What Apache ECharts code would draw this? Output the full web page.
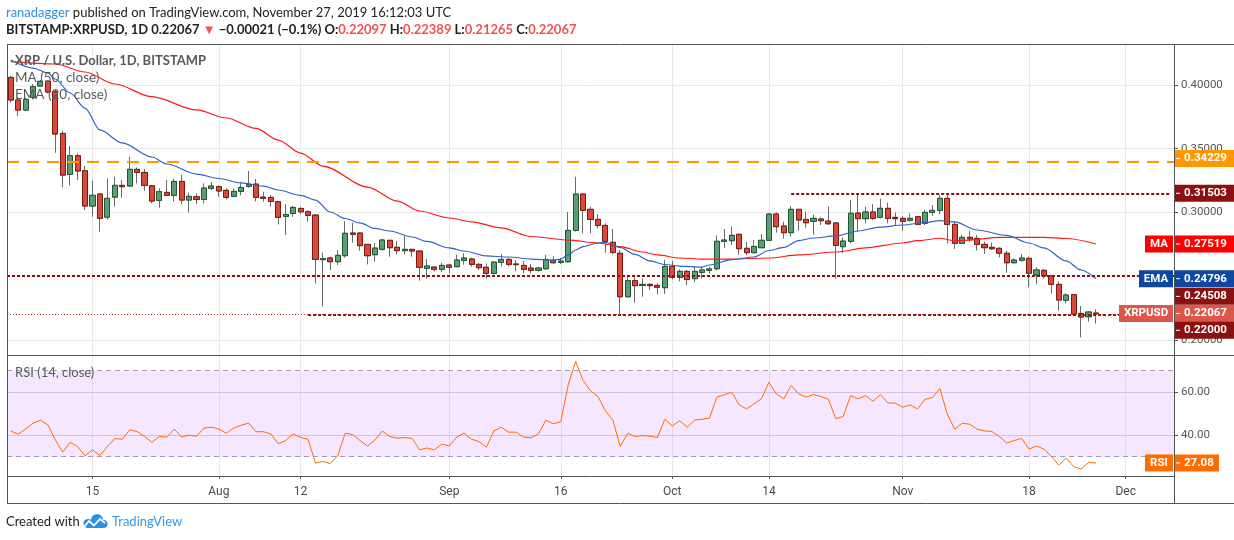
<!DOCTYPE html>
<html>
<head>
<meta charset="utf-8">
<title>XRP / U.S. Dollar, 1D, BITSTAMP</title>
<script src="https://cdn.jsdelivr.net/npm/echarts@6/dist/echarts.min.js"></script>
<style>
  html, body { margin: 0; padding: 0; background: #fff; }
  #main { width: 1234px; height: 540px; }
</style>
</head>
<body>
<div id="main"></div>
<script>
// BITSTAMP:XRPUSD daily candles, 2019-07-04 .. 2019-11-27
const firstDay = '2019-07-04';
const dayCount = 157; // axis runs on a few empty days after the last candle

const opens = [
  0.4060, 0.3882, 0.3803, 0.3903, 0.3992, 0.4029, 0.3947, 0.3620, 0.3298, 0.3445,
  0.3327, 0.3050, 0.3144, 0.2963, 0.3120, 0.3212, 0.3207, 0.3338, 0.3314, 0.3209,
  0.3094, 0.3157, 0.3134, 0.3243, 0.3097, 0.3123, 0.3102, 0.3188, 0.3202, 0.3173,
  0.3126, 0.3165, 0.3204, 0.3222, 0.3120, 0.3118, 0.3084, 0.2969, 0.2992, 0.3031,
  0.3005, 0.2979, 0.2629, 0.2642, 0.2613, 0.2660, 0.2838, 0.2838, 0.2749, 0.2668,
  0.2710, 0.2781, 0.2726, 0.2700, 0.2710, 0.2697, 0.2561, 0.2571, 0.2553, 0.2587,
  0.2574, 0.2624, 0.2634, 0.2592, 0.2569, 0.2521, 0.2608, 0.2631, 0.2595, 0.2584,
  0.2563, 0.2545, 0.2558, 0.2624, 0.2608, 0.2613, 0.2859, 0.3144, 0.3024, 0.2945,
  0.2898, 0.2765, 0.2679, 0.2338, 0.2464, 0.2427, 0.2435, 0.2427, 0.2409, 0.2576,
  0.2490, 0.2537, 0.2480, 0.2529, 0.2545, 0.2558, 0.2773, 0.2778, 0.2828, 0.2718,
  0.2684, 0.2723, 0.2781, 0.2987, 0.2893, 0.2841, 0.3024, 0.2945, 0.2930, 0.2948,
  0.2932, 0.2917, 0.2731, 0.2773, 0.2995, 0.2951, 0.3003, 0.2961, 0.3032, 0.2961,
  0.2953, 0.2938, 0.2966, 0.2914, 0.3000, 0.3016, 0.3110, 0.2906, 0.2757, 0.2804,
  0.2796, 0.2749, 0.2726, 0.2718, 0.2679, 0.2605, 0.2624, 0.2639, 0.2509, 0.2545,
  0.2503, 0.2435, 0.2310, 0.2354, 0.2207, 0.2181, 0.22097
];
const closes = [
  0.3882, 0.3803, 0.3887, 0.3987, 0.4029, 0.3945, 0.3615, 0.3293, 0.3445, 0.3325,
  0.3050, 0.3134, 0.2953, 0.3110, 0.3212, 0.3202, 0.3338, 0.3314, 0.3212, 0.3089,
  0.3162, 0.3134, 0.3243, 0.3097, 0.3126, 0.3102, 0.3191, 0.3207, 0.3168, 0.3118,
  0.3165, 0.3196, 0.3220, 0.3118, 0.3110, 0.3086, 0.2961, 0.2984, 0.3039, 0.3005,
  0.2977, 0.2631, 0.2637, 0.2613, 0.2663, 0.2836, 0.2828, 0.2739, 0.2660, 0.2720,
  0.2783, 0.2723, 0.2700, 0.2710, 0.2697, 0.2569, 0.2579, 0.2553, 0.2584, 0.2569,
  0.2626, 0.2642, 0.2592, 0.2566, 0.2521, 0.2610, 0.2631, 0.2592, 0.2590, 0.2553,
  0.2545, 0.2563, 0.2631, 0.2605, 0.2618, 0.2859, 0.3144, 0.3016, 0.2945, 0.2898,
  0.2773, 0.2686, 0.2338, 0.2464, 0.2425, 0.2435, 0.2425, 0.2412, 0.2576, 0.2490,
  0.2537, 0.2474, 0.2537, 0.2548, 0.2556, 0.2773, 0.2783, 0.2820, 0.2715, 0.2684,
  0.2733, 0.2781, 0.2987, 0.2888, 0.2841, 0.3024, 0.2940, 0.2919, 0.2953, 0.2935,
  0.2911, 0.2741, 0.2775, 0.2993, 0.2951, 0.3003, 0.2953, 0.3032, 0.2953, 0.2951,
  0.2930, 0.2953, 0.2906, 0.3000, 0.3016, 0.3110, 0.2906, 0.2757, 0.2804, 0.2791,
  0.2749, 0.2723, 0.2715, 0.2679, 0.2605, 0.2626, 0.2642, 0.2522, 0.2548, 0.2503,
  0.2435, 0.2312, 0.2351, 0.2202, 0.2179, 0.2218, 0.22067
];
const lows = [
  0.3861, 0.3756, 0.3800, 0.3887, 0.3987, 0.3934, 0.3468, 0.3196, 0.3212, 0.3254,
  0.3018, 0.2966, 0.2848, 0.2945, 0.3045, 0.3115, 0.3205, 0.3228, 0.3170, 0.3071,
  0.3037, 0.3128, 0.3086, 0.3063, 0.3000, 0.3065, 0.3071, 0.3175, 0.3123, 0.3102,
  0.3118, 0.3134, 0.3194, 0.3086, 0.3084, 0.3045, 0.2906, 0.2822, 0.2966, 0.2987,
  0.2927, 0.2443, 0.2260, 0.2548, 0.2587, 0.2645, 0.2762, 0.2700, 0.2592, 0.2613,
  0.2700, 0.2652, 0.2671, 0.2671, 0.2652, 0.2464, 0.2480, 0.2537, 0.2532, 0.2522,
  0.2569, 0.2590, 0.2574, 0.2548, 0.2480, 0.2514, 0.2574, 0.2574, 0.2537, 0.2521,
  0.2521, 0.2535, 0.2548, 0.2597, 0.2595, 0.2605, 0.2849, 0.2836, 0.2836, 0.2875,
  0.2684, 0.2671, 0.2200, 0.2333, 0.2291, 0.2338, 0.2391, 0.2357, 0.2359, 0.2474,
  0.2459, 0.2430, 0.2454, 0.2482, 0.2521, 0.2542, 0.2720, 0.2744, 0.2668, 0.2665,
  0.2679, 0.2718, 0.2775, 0.2841, 0.2794, 0.2809, 0.2856, 0.2880, 0.2825, 0.2901,
  0.2901, 0.2480, 0.2679, 0.2757, 0.2849, 0.2914, 0.2940, 0.2953, 0.2914, 0.2893,
  0.2856, 0.2927, 0.2901, 0.2901, 0.2972, 0.2985, 0.2757, 0.2713, 0.2752, 0.2770,
  0.2700, 0.2673, 0.2705, 0.2647, 0.2527, 0.2600, 0.2613, 0.2412, 0.2438, 0.2482,
  0.2365, 0.2228, 0.2286, 0.2200, 0.2019, 0.2142, 0.21265
];
const highs = [
  0.4070, 0.3903, 0.3900, 0.4008, 0.4039, 0.4039, 0.3960, 0.3641, 0.3521, 0.3463,
  0.3364, 0.3249, 0.3149, 0.3267, 0.3280, 0.3254, 0.3437, 0.3353, 0.3340, 0.3215,
  0.3188, 0.3254, 0.3264, 0.3296, 0.3157, 0.3149, 0.3228, 0.3238, 0.3212, 0.3191,
  0.3188, 0.3238, 0.3325, 0.3262, 0.3162, 0.3136, 0.3086, 0.3065, 0.3052, 0.3044,
  0.3018, 0.2987, 0.2686, 0.2652, 0.2705, 0.2932, 0.2919, 0.2845, 0.2752, 0.2757,
  0.2794, 0.2783, 0.2775, 0.2815, 0.2712, 0.2699, 0.2634, 0.2574, 0.2605, 0.2592,
  0.2668, 0.2679, 0.2645, 0.2603, 0.2600, 0.2616, 0.2673, 0.2642, 0.2626, 0.2618,
  0.2595, 0.2571, 0.2665, 0.2658, 0.2642, 0.3003, 0.3280, 0.3150, 0.3045, 0.2987,
  0.2914, 0.2870, 0.2705, 0.2508, 0.2508, 0.2482, 0.2443, 0.2443, 0.2626, 0.2618,
  0.2553, 0.2548, 0.2574, 0.2574, 0.2574, 0.2820, 0.2870, 0.2888, 0.2830, 0.2768,
  0.2783, 0.2830, 0.2993, 0.3000, 0.2927, 0.3050, 0.3026, 0.3006, 0.2982, 0.2961,
  0.3045, 0.2922, 0.2804, 0.3097, 0.3152, 0.3045, 0.3066, 0.3108, 0.3076, 0.2998,
  0.2972, 0.2993, 0.2972, 0.3019, 0.3058, 0.3137, 0.3152, 0.2927, 0.2822, 0.2854,
  0.2822, 0.2770, 0.2762, 0.2726, 0.2697, 0.2639, 0.2673, 0.2652, 0.2569, 0.2558,
  0.2511, 0.2459, 0.2365, 0.2359, 0.2265, 0.2226, 0.22389
];

// MA (50) and EMA (20) read at sample days (day index from firstDay)
const maDays = [0, 6, 10, 14, 19, 25, 29, 33, 36, 39, 42, 48, 52, 55, 59, 62, 66, 70, 75, 79,
  82, 85, 87, 90, 93, 97, 102, 106, 111, 115, 120, 122, 125, 127, 129, 133, 139, 142, 146];
const maValues = [0.4183, 0.4165, 0.4102, 0.4008, 0.3908, 0.3804, 0.3741, 0.3659, 0.3568, 0.3466,
  0.3364, 0.3199, 0.3089, 0.3011, 0.2956, 0.2925, 0.2878, 0.2811, 0.2783, 0.2760,
  0.2732, 0.2689, 0.2666, 0.2642, 0.2634, 0.2634, 0.2642, 0.2666, 0.2689, 0.2721,
  0.2760, 0.2778, 0.2797, 0.2778, 0.2783, 0.2804, 0.2804, 0.2795, 0.27519];

const emaDays = [0, 3, 5, 6, 8, 10, 12, 15, 19, 21, 25, 28, 31, 34, 36, 39, 41, 43, 45, 47,
  49, 51, 54, 56, 59, 61, 64, 67, 70, 73, 74, 75, 76, 77, 79, 80, 82, 84, 86, 88,
  90, 93, 94, 97, 100, 102, 104, 106, 108, 111, 114, 117, 120, 123, 125, 127, 130, 134, 137, 139,
  142, 144, 146];
const emaValues = [0.4196, 0.4133, 0.4094, 0.4047, 0.3937, 0.3819, 0.3647, 0.3545, 0.3435, 0.3380,
  0.3301, 0.3266, 0.3231, 0.3207, 0.3176, 0.3133, 0.3097, 0.3003, 0.2952, 0.2917,
  0.2874, 0.2854, 0.2807, 0.2772, 0.2721, 0.2697, 0.2658, 0.2650, 0.2634, 0.2626,
  0.2634, 0.2666, 0.2705, 0.2732, 0.2760, 0.2764, 0.2725, 0.2670, 0.2619, 0.2591,
  0.2579, 0.2571, 0.2587, 0.2630, 0.2650, 0.2701, 0.2725, 0.2779, 0.2799, 0.2815,
  0.2854, 0.2885, 0.2901, 0.2921, 0.2935, 0.2925, 0.2862, 0.2819, 0.2760, 0.2721,
  0.2619, 0.2548, 0.24796];

// RSI (14, close), one value per candle
const rsiValues = [
  42.0, 40.5, 42.8, 45.6, 47.0, 44.8, 37.8, 32.1, 36.7, 34.7,
  30.4, 33.2, 30.5, 34.7, 38.4, 38.1, 42.5, 41.7, 39.4, 36.7,
  39.4, 39.1, 42.8, 39.1, 40.0, 39.5, 43.3, 43.7, 42.9, 40.9,
  43.3, 44.6, 45.6, 41.6, 41.6, 40.6, 36.0, 37.5, 40.6, 38.9,
  38.1, 27.0, 27.8, 26.8, 30.5, 40.9, 40.3, 37.5, 34.9, 37.8,
  41.9, 39.4, 38.6, 38.9, 38.5, 33.2, 34.0, 33.2, 35.8, 35.0,
  39.1, 40.9, 38.1, 37.0, 34.4, 42.0, 43.7, 41.4, 41.4, 39.1,
  38.8, 40.6, 47.0, 45.3, 46.2, 63.4, 74.3, 65.4, 60.6, 58.0,
  51.3, 47.1, 34.7, 40.9, 39.4, 39.8, 39.5, 38.9, 47.4, 44.3,
  46.7, 43.7, 47.0, 47.4, 47.9, 57.7, 58.8, 60.0, 54.1, 52.2,
  54.6, 56.9, 64.6, 59.2, 56.9, 63.1, 59.2, 57.7, 58.9, 58.0,
  56.7, 47.6, 48.7, 58.4, 56.9, 58.4, 55.8, 58.9, 55.0, 54.9,
  53.0, 54.1, 52.2, 56.7, 57.5, 61.7, 49.8, 42.8, 45.6, 45.1,
  42.8, 42.0, 41.7, 39.4, 36.3, 37.5, 38.5, 33.5, 35.0, 33.5,
  30.1, 26.1, 29.3, 25.4, 24.2, 27.3, 27.08
];

const tickDates = ['2019-07-15', '2019-08-01', '2019-08-12', '2019-09-01', '2019-09-16',
  '2019-10-01', '2019-10-14', '2019-11-01', '2019-11-18', '2019-12-01'];
const tickLabels = ['15', 'Aug', '12', 'Sep', '16', 'Oct', '14', 'Nov', '18', 'Dec'];
const priceTicks = [0.20, 0.25, 0.30, 0.35, 0.40];
const rsiTicks = [40, 60];

// drawn levels
const orangeLevel = 0.34229;
const resistance = 0.31503, resistanceFrom = '2019-10-17';
const midLevel = 0.24508;
const support = 0.22000, supportFrom = '2019-08-13';
const trendDates = ['2019-09-09', '2019-11-24'];
const trendPrices = [0.4324, 0.3604];
const maLast = 0.27519, emaLast = 0.24796, lastClose = 0.22067, rsiLast = 27.08;

const dates = [];
const t0 = Date.parse(firstDay + 'T00:00:00Z');
for (let i = 0; i < dayCount; i++) {
  dates.push(new Date(t0 + i * 86400000).toISOString().slice(0, 10));
}
const lastDate = dates[dates.length - 1];

const candles = opens.map((o, i) => [o, closes[i], lows[i], highs[i]]);
const bodies = opens.map((o, i) => [o, closes[i], Math.min(o, closes[i]), Math.max(o, closes[i])]);
const maData = maDays.map((d, j) => [dates[d], maValues[j]]);
const emaData = emaDays.map((d, j) => [dates[d], emaValues[j]]);

const FONT = 'Lato, "Noto Sans", sans-serif';
const AXIS_FONT = 'Roboto, "Noto Sans", sans-serif';
const isTick = (idx, val) => tickDates.indexOf(val) >= 0;
const gridStyle = { color: '#e9e9e9', width: 1, type: 'solid' };
const darkRed = '#8b1010';

var chart = echarts.init(document.getElementById('main'));
var option = {
  animation: false,
  backgroundColor: '#ffffff',
  title: [
    {
      left: 6, top: 5, padding: 0,
      text: '{u|ranadagger} published on TradingView.com, November 27, 2019 16:12:03 UTC',
      textStyle: {
        fontFamily: FONT, fontSize: 13, fontWeight: 'normal', color: '#222', lineHeight: 16,
        rich: { u: { color: '#2e8ee0', fontFamily: FONT, fontSize: 13 } }
      }
    },
    {
      left: 6, top: 22, padding: 0,
      text: '{k|BITSTAMP:XRPUSD, 1D} {n|0.22067} {r|▼} {n|\u22120.00021 (\u22120.1%)} {k|O:}{r|0.22097} {k|H:}{r|0.22389} {k|L:}{r|0.21265} {k|C:}{r|0.22067}',
      textStyle: {
        fontFamily: FONT, fontSize: 13, color: '#222', lineHeight: 16,
        rich: {
          k: { fontFamily: FONT, fontSize: 13, fontWeight: 'bold', color: '#222' },
          n: { fontFamily: FONT, fontSize: 13, color: '#222' },
          r: { fontFamily: FONT, fontSize: 13, color: '#ef5350' }
        }
      }
    },
    {
      left: 15, top: 53, padding: 0, text: 'XRP / U.S. Dollar, 1D, BITSTAMP',
      textStyle: { fontFamily: FONT, fontSize: 13, fontWeight: 'bold', color: '#5a5a5a', lineHeight: 16 }
    },
    {
      left: 15, top: 70, padding: 0, text: 'MA (50, close)',
      textStyle: { fontFamily: FONT, fontSize: 13.5, fontWeight: 'normal', color: '#5a5a5a', lineHeight: 16 }
    },
    {
      left: 15, top: 87, padding: 0, text: 'EMA (20, close)',
      textStyle: { fontFamily: FONT, fontSize: 13.5, fontWeight: 'normal', color: '#5a5a5a', lineHeight: 16 }
    },
    {
      left: 15, top: 366, padding: 0, text: 'RSI (14, close)',
      textStyle: { fontFamily: FONT, fontSize: 13, fontWeight: 'normal', color: '#5a5a5a', lineHeight: 14 }
    },
    {
      left: 6, top: 514, padding: 0, text: 'Created with {tv|TradingView}',
      textStyle: {
        fontFamily: FONT, fontSize: 13, fontWeight: 'normal', color: '#222', lineHeight: 16,
        rich: { tv: { fontFamily: FONT, fontSize: 13, color: '#3a95e8', padding: [0, 0, 0, 29] } }
      }
    }
  ],
  grid: [
    { left: 7, right: 60, top: 44, height: 311 },
    { left: 7, right: 60, top: 355, height: 121 }
  ],
  xAxis: [
    {
      type: 'category', gridIndex: 0, data: dates, boundaryGap: true,
      axisLine: { show: false }, axisTick: { show: false }, axisLabel: { show: false }, splitLine: { show: false }
    },
    {
      type: 'category', gridIndex: 1, data: dates, boundaryGap: true,
      axisLine: { show: false },
      axisTick: { show: true, interval: isTick, alignWithLabel: true, length: 3, lineStyle: { color: '#555' } },
      axisLabel: {
        interval: isTick, color: '#4a4a4a', fontFamily: AXIS_FONT, fontSize: 12, margin: 10,
        formatter: (val) => tickLabels[tickDates.indexOf(val)]
      },
      splitLine: { show: false }
    }
  ],
  yAxis: [
    {
      type: 'value', gridIndex: 0, position: 'right', min: 0.18807, max: 0.43218,
      axisLine: { show: false },
      axisTick: { show: true, length: 4, customValues: priceTicks, lineStyle: { color: '#555' } },
      axisLabel: {
        customValues: priceTicks, color: '#555', fontFamily: AXIS_FONT, fontSize: 11.5, margin: 7,
        formatter: (v) => v.toFixed(5)
      },
      splitLine: { show: false }
    },
    {
      type: 'value', gridIndex: 1, position: 'right', min: 21, max: 77.3,
      axisLine: { show: false },
      axisTick: { show: true, length: 4, customValues: rsiTicks, lineStyle: { color: '#555' } },
      axisLabel: {
        customValues: rsiTicks, color: '#555', fontFamily: AXIS_FONT, fontSize: 11.5, margin: 7,
        formatter: (v) => v.toFixed(2)
      },
      splitLine: { show: false }
    }
  ],
  series: [
    {
      name: 'range', type: 'candlestick', xAxisIndex: 0, yAxisIndex: 0, data: candles,
      barWidth: 5.6, silent: true,
      itemStyle: {
        color: '#6a6a6a', color0: '#6a6a6a', borderColor: '#6a6a6a', borderColor0: '#6a6a6a',
        borderColorDoji: '#6a6a6a', borderWidth: 1
      }
    },
    {
      name: 'XRPUSD', type: 'candlestick', xAxisIndex: 0, yAxisIndex: 0, data: bodies,
      barWidth: 5.6, silent: true,
      itemStyle: {
        color: '#5b9e75', color0: '#d94a3a', borderColor: '#1f5732', borderColor0: '#7a1a10',
        borderColorDoji: '#6a1a10', borderWidth: 1
      },
      markLine: {
        silent: true, symbol: 'none', label: { show: false }, animation: false,
        data: [
          { yAxis: orangeLevel, lineStyle: { color: '#ff9800', width: 2, type: [12, 8] } },
          [
            { coord: [resistanceFrom, resistance], lineStyle: { color: darkRed, width: 2, type: [3, 2] } },
            { coord: [lastDate, resistance] }
          ],
          { yAxis: midLevel, lineStyle: { color: darkRed, width: 2, type: [3, 2] } },
          [
            { coord: [supportFrom, support], lineStyle: { color: darkRed, width: 2, type: [3, 2] } },
            { coord: [lastDate, support] }
          ],
          { yAxis: lastClose, lineStyle: { color: '#b23a2e', width: 1, type: [1, 2] } },
          [
            { coord: [trendDates[0], trendPrices[0]], lineStyle: { color: '#ff9800', width: 2.5, type: 'solid' } },
            { coord: [trendDates[1], trendPrices[1]] }
          ]
        ]
      }
    },
    {
      name: 'MA (50, close)', type: 'line', xAxisIndex: 0, yAxisIndex: 0, data: maData,
      symbol: 'none', smooth: 0.3, smoothMonotone: 'x', silent: true,
      lineStyle: { color: '#ff1a1a', width: 1.2 },
      markLine: {
        silent: true, symbol: 'none', label: { show: false }, animation: false, z: 0,
        lineStyle: gridStyle,
        data: tickDates.map((d) => ({ xAxis: d })).concat(priceTicks.map((v) => ({ yAxis: v })))
      }
    },
    {
      name: 'EMA (20, close)', type: 'line', xAxisIndex: 0, yAxisIndex: 0, data: emaData,
      symbol: 'none', smooth: 0.3, smoothMonotone: 'x', silent: true,
      lineStyle: { color: '#2f62c8', width: 1.2 }
    },
    {
      name: 'RSI', type: 'line', xAxisIndex: 1, yAxisIndex: 1, data: rsiValues,
      symbol: 'none', silent: true,
      lineStyle: { color: '#ff6d00', width: 1 },
      markArea: {
        silent: true, itemStyle: { color: 'rgba(153, 21, 255, 0.1)' },
        data: [[{ yAxis: 30 }, { yAxis: 70 }]]
      },
      markLine: {
        silent: true, symbol: 'none', label: { show: false }, animation: false, z: 0,
        lineStyle: gridStyle,
        data: tickDates.map((d) => ({ xAxis: d }))
          .concat(rsiTicks.map((v) => ({ yAxis: v, lineStyle: { color: '#ddd5e4', width: 1, type: 'solid' } })))
          .concat([70, 30].map((v) => ({ yAxis: v, lineStyle: { color: '#aaa3b0', width: 1, type: [5, 4] } })))
      }
    }
  ]
};
chart.setOption(option);

// frame and price tags, placed through the axes
const ctx = document.createElement('canvas').getContext('2d');
function textWidth(t, font) { ctx.font = font; return ctx.measureText(t).width; }
const TAG_FONT = 'bold 11.5px Roboto';
const frameColor = '#555';
const g = [];
function hline(y, x1, x2) {
  g.push({ type: 'line', z: 50, silent: true, shape: { x1: x1, y1: y + 0.5, x2: x2, y2: y + 0.5 }, style: { stroke: frameColor, lineWidth: 1 } });
}
function vline(x, y1, y2) {
  g.push({ type: 'line', z: 50, silent: true, shape: { x1: x + 0.5, y1: y1, x2: x + 0.5, y2: y2 }, style: { stroke: frameColor, lineWidth: 1 } });
}
hline(44, 7, 1234);
hline(355, 7, 1234);
hline(476, 7, 1174);
hline(503, 7, 1234);
vline(7, 44, 504);
vline(1174, 44, 504);

function valueTag(cy, text, bg, x2) {
  g.push({ type: 'rect', z: 60, silent: true, shape: { x: 1175, y: cy - 8.5, width: x2 - 1175, height: 17 }, style: { fill: bg } });
  g.push({ type: 'line', z: 61, silent: true, shape: { x1: 1176, y1: cy, x2: 1180, y2: cy }, style: { stroke: '#fff', lineWidth: 1 } });
  g.push({ type: 'text', z: 61, silent: true, x: 1184, y: cy, style: { text: text, fill: '#fff', font: TAG_FONT, align: 'left', verticalAlign: 'middle' } });
}
function nameTag(cy, text, bg) {
  const w = Math.round(textWidth(text, TAG_FONT)) + 10;
  g.push({ type: 'rect', z: 60, silent: true, shape: { x: 1173 - w, y: cy - 8.5, width: w, height: 17 }, style: { fill: bg } });
  g.push({ type: 'text', z: 61, silent: true, x: 1173 - w / 2, y: cy, style: { text: text, fill: '#fff', font: TAG_FONT, align: 'center', verticalAlign: 'middle' } });
}
const py = (v) => chart.convertToPixel({ yAxisIndex: 0 }, v);
valueTag(py(orangeLevel), orangeLevel.toFixed(5), '#ff9800', 1234);
valueTag(py(resistance), resistance.toFixed(5), darkRed, 1234);
nameTag(py(maLast), 'MA', '#ff0000');
valueTag(py(maLast), maLast.toFixed(5), '#ff0000', 1234);
nameTag(py(emaLast), 'EMA', '#0d47a1');
valueTag(py(emaLast), emaLast.toFixed(5), '#0d47a1', 1234);
valueTag(py(midLevel) + 14, midLevel.toFixed(5), darkRed, 1234);
nameTag(py(lastClose), 'XRPUSD', '#d9584a');
valueTag(py(lastClose), lastClose.toFixed(5), '#d9584a', 1234);
valueTag(py(support) + 16, support.toFixed(5), darkRed, 1234);
const ry = chart.convertToPixel({ yAxisIndex: 1 }, rsiLast);
nameTag(ry, 'RSI', '#ff6d00');
valueTag(ry, rsiLast.toFixed(2), '#ff6d00', 1219);

// TradingView badge next to "Created with": a small cloud with a white zigzag
const badgeBlue = '#2e8ee0';
g.push({ type: 'circle', z: 60, silent: true, shape: { cx: 88, cy: 523.5, r: 4.5 }, style: { fill: badgeBlue } });
g.push({ type: 'circle', z: 60, silent: true, shape: { cx: 97, cy: 520, r: 6 }, style: { fill: badgeBlue } });
g.push({ type: 'circle', z: 60, silent: true, shape: { cx: 103.5, cy: 524, r: 4 }, style: { fill: badgeBlue } });
g.push({ type: 'rect', z: 60, silent: true, shape: { x: 88, y: 523, width: 15.5, height: 5, r: 0 }, style: { fill: badgeBlue } });
g.push({
  type: 'polyline', z: 61, silent: true,
  shape: { points: [[84, 527], [89, 521], [94, 525.5], [100, 519], [105, 523]] },
  style: { stroke: '#fff', lineWidth: 1.8, fill: null }
});

chart.setOption({ graphic: g });
</script>
</body>
</html>
